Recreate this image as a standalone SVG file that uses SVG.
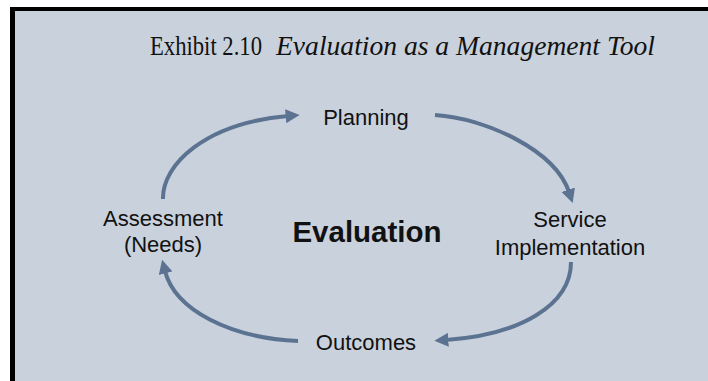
<svg xmlns="http://www.w3.org/2000/svg" width="708" height="381" viewBox="0 0 708 381">
  <style>
    .frame { fill: #C9D1DC; }
    .edge { fill: #000; }
    .title { font-family: "Liberation Serif", serif; font-size: 27px; fill: #111; }
    .label { font-family: "Liberation Sans", Arial, sans-serif; font-size: 22px; fill: #111; text-anchor: middle; }
    .center { font-family: "Liberation Sans", Arial, sans-serif; font-size: 29.5px; font-weight: bold; fill: #111; text-anchor: middle; }
    .arc { fill: none; stroke: #5B7391; stroke-width: 4; }
  </style>
  <defs>
    <marker id="head" markerUnits="userSpaceOnUse" markerWidth="14" markerHeight="14" viewBox="0 0 12 12" refX="2" refY="6" orient="auto">
      <path d="M0,0 L12,6 L0,12 Z" fill="#5B7391"/>
    </marker>
  </defs>

  <!-- panel with black top and left edges -->
  <rect class="frame" x="10" y="7" width="698" height="374"/>
  <rect class="edge" x="10" y="7" width="698" height="4"/>
  <rect class="edge" x="10" y="7" width="5" height="374"/>

  <g id="title">
    <text class="title" x="150" y="55" textLength="112" lengthAdjust="spacingAndGlyphs">Exhibit 2.10</text>
    <text class="title" x="276" y="55" font-style="italic" textLength="379" lengthAdjust="spacingAndGlyphs">Evaluation as a Management Tool</text>
  </g>

  <g id="connectors">
    <path class="arc" d="M163,199 C162,165 205,123 288,116" marker-end="url(#head)"/>
    <path class="arc" d="M435,115 C485,118 555,150 569,192" marker-end="url(#head)"/>
    <path class="arc" d="M571,262 C571,305 520,335 446,340" marker-end="url(#head)"/>
    <path class="arc" d="M298,341 C230,338 175,310 165,271" marker-end="url(#head)"/>
  </g>

  <g id="planning">
    <text class="label" x="366" y="125">Planning</text>
  </g>
  <g id="service">
    <text class="label" x="570" y="227">Service</text>
    <text class="label" x="570" y="255">Implementation</text>
  </g>
  <g id="outcomes">
    <text class="label" x="366" y="350">Outcomes</text>
  </g>
  <g id="assessment">
    <text class="label" x="163" y="226">Assessment</text>
    <text class="label" x="163" y="252">(Needs)</text>
  </g>
  <g id="evaluation">
    <text class="center" x="367" y="242">Evaluation</text>
  </g>
</svg>
